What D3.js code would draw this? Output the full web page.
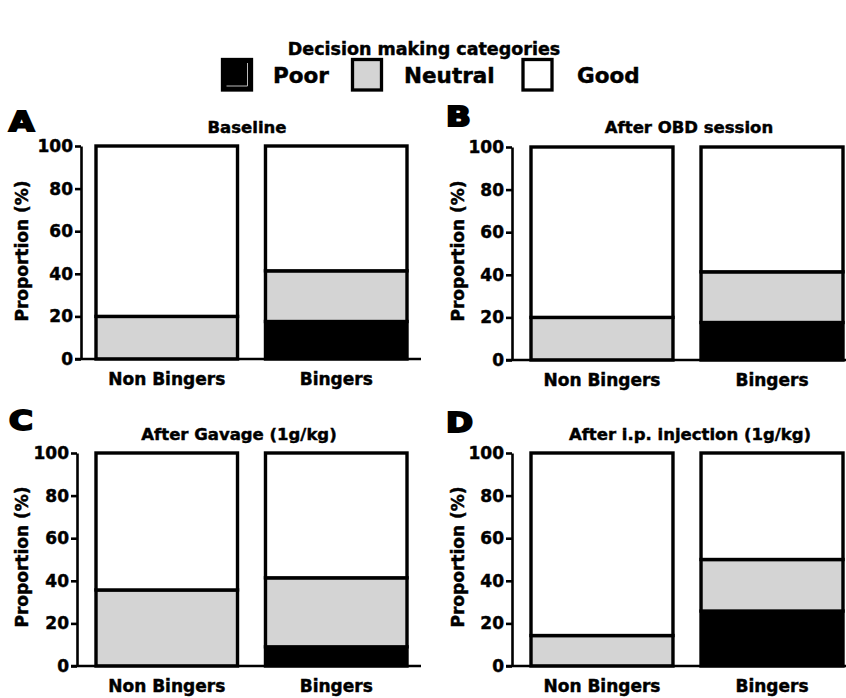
<!DOCTYPE html>
<html><head><meta charset="utf-8">
<script src="https://cdn.jsdelivr.net/npm/d3@7"></script>
<style>
body{margin:0;background:#fff}
text{font-family:"DejaVu Sans",sans-serif;font-weight:bold;fill:#000;stroke:#000;stroke-width:0.45px}
</style>
</head><body><svg id="c" width="846" height="698"></svg>
<script>
// ---- data ----
const categories = ["Non Bingers", "Bingers"];
const seriesNames = ["Poor", "Neutral", "Good"];
const panelTitles = ["Baseline", "After OBD session", "After Gavage (1g/kg)", "After i.p. injection (1g/kg)"];
const panelLetters = ["A", "B", "C", "D"];
const poorValues    = [[0, 17.6], [0, 17.6], [0, 9.0],  [0, 25.8]];
const neutralValues = [[20, 23.8], [20, 23.8], [35.7, 32.4], [14.3, 24.2]];
const goodValues    = [[80, 58.6], [80, 58.6], [64.3, 58.6], [85.7, 50.0]];
const yTicks = [0, 20, 40, 60, 80, 100];
const mainTitle = "Decision making categories";

const colors = {Poor: "#000000", Neutral: "#d4d4d4", Good: "#ffffff"};

const svg = d3.select("#c");

// ---- header / legend ----
svg.append("text").attr("x", 424).attr("y", 55).attr("text-anchor", "middle")
  .style("font-size", "17.5px").text(mainTitle);

const legendPos = [{bx: 222.5, tx: 273}, {bx: 352.5, tx: 404}, {bx: 523, tx: 577}];
seriesNames.forEach((s, i) => {
  const g = svg.append("g");
  g.append("rect").attr("x", legendPos[i].bx).attr("y", 59.5).attr("width", 29).attr("height", 30.5)
    .attr("fill", colors[s]).attr("stroke", "#000").attr("stroke-width", 3.3);
  if (s === "Poor") {
    g.append("path").attr("d", `M${legendPos[i].bx + 25},${63} V${86} H${legendPos[i].bx + 4}`)
      .attr("fill", "none").attr("stroke", "#bbb").attr("stroke-width", 1);
  }
  g.append("text").attr("x", legendPos[i].tx).attr("y", 83).style("font-size", "21.5px").text(s);
});

// ---- panel layout ----
const layouts = [
  {axisX: 81,  xEnd: 421, barL: 96,  barR: 407, y0: 359, y100: 146, title: [247, 133], letter: [9, 131],   ylab: [28, 251],  catY: 385},
  {axisX: 512, xEnd: 846, barL: 531, barR: 843, y0: 360, y100: 147, title: [689, 133], letter: [446, 126], ylab: [464, 251], catY: 386},
  {axisX: 77,  xEnd: 421, barL: 96,  barR: 407, y0: 666, y100: 453, title: [239, 440], letter: [9, 430],   ylab: [28, 557],  catY: 692},
  {axisX: 512, xEnd: 846, barL: 531, barR: 843, y0: 666, y100: 453, title: [690, 440], letter: [446, 432], ylab: [464, 557], catY: 692}
];

layouts.forEach((L, p) => {
  const g = svg.append("g");
  const y = d3.scaleLinear().domain([0, 100]).range([L.y0, L.y100]);
  const x = d3.scaleBand().domain(categories).range([L.barL, L.barR]).paddingInner(0.165).paddingOuter(0);

  const rows = categories.map((c, i) => ({cat: c, Poor: poorValues[p][i], Neutral: neutralValues[p][i], Good: goodValues[p][i]}));
  const stacked = d3.stack().keys(seriesNames)(rows);

  // bars
  stacked.forEach(layer => {
    g.append("g").selectAll("rect").data(layer).join("rect")
      .attr("x", d => x(d.data.cat))
      .attr("width", x.bandwidth())
      .attr("y", d => y(d[1]))
      .attr("height", d => Math.max(0, y(d[0]) - y(d[1])))
      .attr("fill", colors[layer.key])
      .attr("stroke", "#000").attr("stroke-width", 3.4)
      .attr("display", d => (d[1] - d[0]) > 0 ? null : "none");
  });

  // y axis
  const ya = g.append("g").attr("transform", `translate(${L.axisX},0)`)
    .call(d3.axisLeft(y).tickValues(yTicks).tickSize(6).tickSizeOuter(0).tickPadding(2));
  ya.select(".domain").attr("stroke-width", 2.6);
  ya.selectAll(".tick line").attr("stroke-width", 2.6);
  ya.selectAll(".tick text").style("font-size", "17px").attr("font-family", null);

  // x axis baseline
  g.append("line").attr("x1", L.axisX - 6).attr("x2", L.xEnd).attr("y1", L.y0).attr("y2", L.y0)
    .attr("stroke", "#000").attr("stroke-width", 2.6);

  // category labels
  g.append("g").selectAll("text").data(categories).join("text")
    .attr("x", d => x(d) + x.bandwidth() / 2).attr("y", L.catY)
    .attr("text-anchor", "middle").style("font-size", "17px").text(d => d);

  // y axis title
  g.append("text").attr("transform", `translate(${L.ylab[0]},${L.ylab[1]}) rotate(-90)`)
    .attr("text-anchor", "middle").style("font-size", "17px").text("Proportion (%)");

  // panel title
  g.append("text").attr("x", L.title[0]).attr("y", L.title[1]).attr("text-anchor", "middle")
    .style("font-size", "16.5px").text(panelTitles[p]);

  // panel letter
  g.append("text").attr("transform", `translate(${L.letter[0]},${L.letter[1]}) scale(1.25,1)`)
    .style("font-size", "26px").style("stroke-width", "2px")
    .text(panelLetters[p]);
});
</script>
</body></html>
